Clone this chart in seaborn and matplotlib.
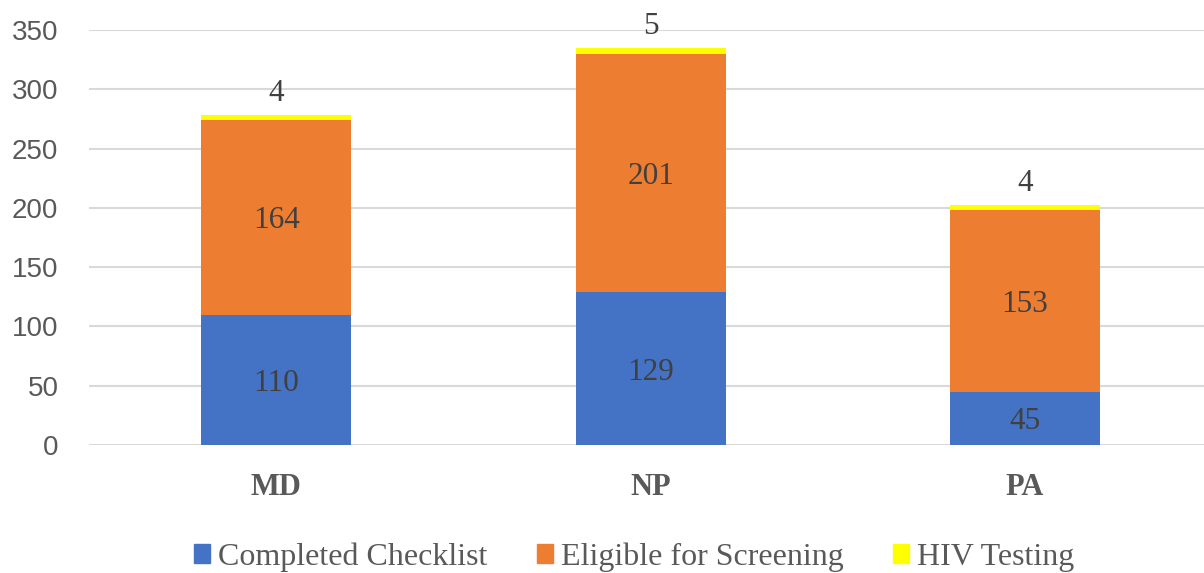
import matplotlib
matplotlib.use("Agg")
import matplotlib.pyplot as plt
import seaborn as sns
import pandas as pd

categories = ["MD", "NP", "PA"]
completed_checklist = [110, 129, 45]
eligible_screening = [164, 201, 153]
hiv_testing = [4, 5, 4]

series_names = ["Completed Checklist", "Eligible for Screening", "HIV Testing"]
series_colors = ["#4472C4", "#ED7D31", "#FFFF00"]

sns.set_theme(style="white")
plt.rcParams["font.family"] = ["Liberation Serif", "DejaVu Serif"]

fig = plt.figure(figsize=(12.04, 5.73), dpi=100)
ax = fig.add_axes([89 / 1204, 1 - 445 / 573, 1 - 89 / 1204, (445 - 30) / 573])

df = pd.DataFrame({
    "category": categories,
    series_names[0]: completed_checklist,
    series_names[1]: eligible_screening,
    series_names[2]: hiv_testing,
})

bottom = [0] * len(categories)
handles = []
for name, color in zip(series_names, series_colors):
    sns.barplot(data=df, x="category", y=name, bottom=bottom, color=color,
                width=0.4, ax=ax, zorder=3, linewidth=0, saturation=1)
    handles.append(plt.Rectangle((0, 0), 1, 1, color=color))
    bottom = [b + v for b, v in zip(bottom, df[name])]

# value labels: centered inside the two main segments, above the bar for the thin top segment
label_kw = dict(ha="center", va="center_baseline", fontsize=22.5, color="#404040", zorder=4)
for i in range(len(categories)):
    b1 = completed_checklist[i]
    b2 = b1 + eligible_screening[i]
    ax.text(i, b1 / 2, str(completed_checklist[i]), **label_kw)
    ax.text(i, b1 + eligible_screening[i] / 2, str(eligible_screening[i]), **label_kw)
    ax.text(i, b2 + hiv_testing[i] + 6, str(hiv_testing[i]), ha="center",
            va="bottom", fontsize=22.5, color="#404040", zorder=4, clip_on=False)

ax.set_ylim(0, 350)
ax.set_xlim(-0.5, 2.478)
ax.set_yticks(range(0, 351, 50))
ax.yaxis.grid(True, color="#D9D9D9", linewidth=1.5, zorder=0)
ax.xaxis.grid(False)
for s in ax.spines.values():
    s.set_visible(False)
ax.set_xlabel("")
ax.set_ylabel("")
ax.tick_params(axis="y", length=0, pad=22, labelsize=20, labelcolor="#595959")
ax.tick_params(axis="x", length=0, pad=20)
for lab in ax.get_yticklabels():
    lab.set_fontfamily(["Liberation Sans", "DejaVu Sans"])
for lab in ax.get_xticklabels():
    lab.set_fontsize(22)
    lab.set_fontweight("bold")
    lab.set_color("#595959")

fig.legend(handles, series_names, loc="center", bbox_to_anchor=(0.527, 1 - 557 / 573),
           ncol=3, frameon=False, fontsize=23, handlelength=0.5, handleheight=0.5,
           handletextpad=0.25, columnspacing=1.55, labelcolor="#595959")

fig.savefig("out.png", dpi=100)
